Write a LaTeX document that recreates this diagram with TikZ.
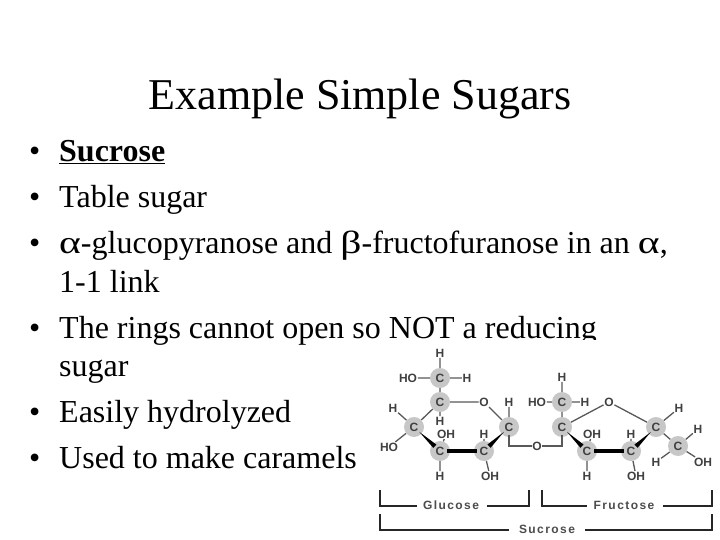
\documentclass[tikz,border=0pt]{standalone}
\usepackage{fontspec}
\usepackage{graphicx}
\setmainfont{Liberation Serif}
\newfontfamily\lab{Liberation Sans}
\newfontfamily\spaced[LetterSpace=12]{Liberation Sans}
\newcommand{\gk}[1]{\scalebox{1.3}[1]{#1}}
\usetikzlibrary{calc}
\tikzset{
 x=1pt,y=-1pt,
 slidetitle/.style={anchor=base,font=\fontsize{44}{44}\selectfont,inner sep=0},
 bodyline/.style={anchor=base west,font=\fontsize{32}{32}\selectfont,inner sep=0},
 atom/.style={font=\lab\bfseries\fontsize{12}{12}\selectfont,text=black!75,inner sep=0.6pt},
 hub/.style={atom,circle,fill=black!22,minimum size=20pt,inner sep=0},
 bond/.style={draw=black!65,line width=1.3pt},
 thickbond/.style={draw=black,line width=3.5pt,shorten <=7pt,shorten >=7pt},
 wedgebond/.style={fill=black,draw=none},
 bracket/.style={draw=black!85,line width=1.3pt},
 brlabel/.style={font=\spaced\bfseries\fontsize{12}{12}\selectfont,text=black!70,inner sep=0},
}
\begin{document}
\begin{tikzpicture}
\useasboundingbox (0,0) rectangle (720,540);
\fill[white] (0,0) rectangle (720,540);
\node[slidetitle] (t) at (360,110) {Example Simple Sugars};
\foreach \n/\y in {1/161.5,2/207.5,3/253,4/338,5/422,6/468}{
  \node[bodyline] (b\n) at (29,\y) {•};
}
\node[bodyline] (l1) at (59,161.5) {\textbf{\underline{Sucrose}}};
\node[bodyline] (l2) at (59,207.5) {Table sugar};
\node[bodyline] (l3) at (59,253) {\gk{α}-glucopyranose and \gk{β}-fructofuranose in an \gk{α},};
\node[bodyline] (l3b) at (59,292) {1-1 link};
\node[bodyline] (l4) at (59,338) {The rings cannot open so NOT a reducing};
\node[bodyline] (l4b) at (59,376) {sugar};
\node[bodyline] (l5) at (59,422) {Easily hydrolyzed};
\node[bodyline] (l6) at (59,468) {Used to make caramels};
\fill[white] (360,340) rectangle (720,540);
% glucose
\node[hub] (g6) at (440,378) {C};
\node[hub] (g5) at (440,402) {C};
\node[hub] (g4) at (414,427) {C};
\node[hub] (g3) at (440,451) {C};
\node[hub] (g2) at (484,451) {C};
\node[hub] (g1) at (509,427) {C};
\node[atom] (gO) at (484,402) {O};
\node[atom] (gH6a) at (440,353) {H};
\node[atom] (gHO6) at (408,378) {HO};
\node[atom] (gH6b) at (467,378) {H};
\node[atom] (gH5) at (440,421) {H};
\node[atom] (gH4) at (393,408) {H};
\node[atom] (gHO4) at (389,447) {HO};
\node[atom] (gOH3) at (446,434) {OH};
\node[atom] (gH3) at (440,476) {H};
\node[atom] (gH2) at (484,434) {H};
\node[atom] (gOH2) at (490,476) {OH};
\node[atom] (gH1) at (509,402) {H};
\node[atom] (lnk) at (537,446) {O};
% fructose
\node[hub] (f6) at (562,402) {C};
\node[hub] (f2) at (562,427) {C};
\node[hub] (f3) at (587,451) {C};
\node[hub] (f4) at (631,451) {C};
\node[hub] (f5) at (656,427) {C};
\node[hub] (f1) at (678,446) {C};
\node[atom] (fO) at (609,402) {O};
\node[atom] (fHa) at (562,377) {H};
\node[atom] (fHO) at (537,402) {HO};
\node[atom] (fHb) at (585,402) {H};
\node[atom] (fOH3) at (592,434) {OH};
\node[atom] (fH3) at (587,476) {H};
\node[atom] (fH4) at (631,434) {H};
\node[atom] (fOH4) at (636,476) {OH};
\node[atom] (fH5) at (679,408) {H};
\node[atom] (fH1a) at (698,429) {H};
\node[atom] (fH1b) at (656,462) {H};
\node[atom] (fOH1) at (703,462) {OH};
% bonds: hub letters are redrawn over the line ends
\draw[bond] (g6.east) -- (gH6b) (g6.west) -- (gHO6) (g6.north) -- (gH6a) (g6.south) -- (g5.north)
 (g5.east) -- (gO) (g5.south) -- (gH5) (g5) -- (g4) (g4) -- (gH4) (g4) -- (gHO4)
 (g3) -- (gOH3) (g3) -- (gH3) (g2) -- (gH2) (g2) -- (gOH2)
 (g1) -- (gO) (g1) -- (gH1);
\draw[bond] (g1.center) ++(0,8) -- ++(0,11) -- (lnk);
\draw[thickbond] (g3.center) -- (g2.center);
\coordinate (g3a) at ($(g3.center)!7pt!(g4.center)$);
\coordinate (g2a) at ($(g2.center)!7pt!(g1.center)$);
\fill[wedgebond] ($(g4.center)!7pt!(g3.center)$) -- ($(g3a)+(1.6,-1.6)$) -- ($(g3a)+(-1.6,1.6)$) -- cycle;
\fill[wedgebond] ($(g1.center)!7pt!(g2.center)$) -- ($(g2a)+(1.6,1.6)$) -- ($(g2a)+(-1.6,-1.6)$) -- cycle;
\draw[bond] (f6) -- (fHa) (f6) -- (fHO) (f6) -- (fHb) (f6) -- (f2)
 (f2) -- (fO) (f5) -- (fO) (f3) -- (fOH3) (f3) -- (fH3)
 (f4) -- (fH4) (f4) -- (fOH4) (f5) -- (fH5) (f5) -- (f1)
 (f1) -- (fH1a) (f1) -- (fH1b) (f1) -- (fOH1);
\draw[bond] (f2.center) ++(0,8) -- ++(0,11) -- (lnk);
\draw[thickbond] (f3.center) -- (f4.center);
\coordinate (f3a) at ($(f3.center)!7pt!(f2.center)$);
\coordinate (f4a) at ($(f4.center)!7pt!(f5.center)$);
\fill[wedgebond] ($(f2.center)!7pt!(f3.center)$) -- ($(f3a)+(1.6,-1.6)$) -- ($(f3a)+(-1.6,1.6)$) -- cycle;
\fill[wedgebond] ($(f5.center)!7pt!(f4.center)$) -- ($(f4a)+(1.6,1.6)$) -- ($(f4a)+(-1.6,-1.6)$) -- cycle;
% brackets
\node[brlabel] (cg) at (451,505) {Glucose};
\node[brlabel] (cf) at (624,505) {Fructose};
\node[brlabel] (cs) at (547,529) {Sucrose};
\coordinate (a1) at (380,490); \coordinate (a2) at (529,490);
\coordinate (a3) at (542,490); \coordinate (a4) at (712,490);
\coordinate (a5) at (380,514); \coordinate (a6) at (712,514);
\draw[bracket] (a1) |- ([xshift=-6pt]cg.west |- 0,506);
\draw[bracket] (a2) |- ([xshift=8pt]cg.east |- 0,506);
\draw[bracket] (a3) |- ([xshift=-6pt]cf.west |- 0,506);
\draw[bracket] (a4) |- ([xshift=8pt]cf.east |- 0,506);
\draw[bracket] (a5) |- ([xshift=-10pt]cs.west |- 0,530);
\draw[bracket] (a6) |- ([xshift=10pt]cs.east |- 0,530);
\end{tikzpicture}
\end{document}
